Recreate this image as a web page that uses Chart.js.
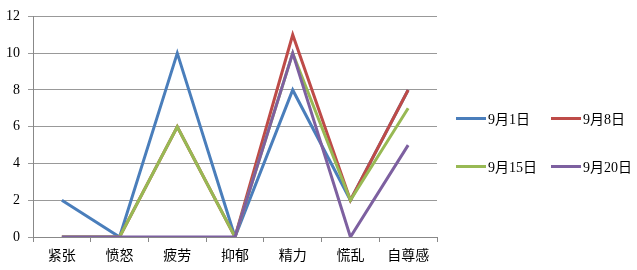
<!DOCTYPE html>
<html>
<head>
<meta charset="utf-8">
<script src="https://cdn.jsdelivr.net/npm/chart.js"></script>
<style>
  body { margin: 0; background: #fff; }
  #wrap { position: relative; width: 637px; height: 270px; }
  #legend { position: absolute; left: 456px; top: 108px; width: 180px;
    font-family: "Liberation Serif", "Noto Sans CJK SC", serif; font-size: 14px; color: #000; }
  .item { position: absolute; display: flex; align-items: center; white-space: nowrap; }
  .swatch { width: 30px; height: 3px; margin-right: 2px; }
</style>
</head>
<body>
<div id="wrap">
  <canvas id="chart" width="637" height="270"></canvas>
  <div id="legend"></div>
</div>
<script>
const categories = ['紧张', '愤怒', '疲劳', '抑郁', '精力', '慌乱', '自尊感'];
const seriesNames = ['9月1日', '9月8日', '9月15日', '9月20日'];
const sep1 = [2, 0, 10, 0, 8, 2, 8];
const sep8 = [0, 0, 6, 0, 11, 2, 8];
const sep15 = [0, 0, 6, 0, 10, 2, 7];
const sep20 = [0, 0, 0, 0, 10, 0, 5];
const colors = ['#4A7EBB', '#BE4B48', '#98B954', '#7D60A0'];
const yTicks = [0, 2, 4, 6, 8, 10, 12];

const values = [sep1, sep8, sep15, sep20];

const ctx = document.getElementById('chart').getContext('2d');
new Chart(ctx, {
  type: 'line',
  data: {
    labels: categories,
    datasets: values.map((v, i) => ({
      label: seriesNames[i],
      data: v,
      borderColor: colors[i],
      backgroundColor: colors[i],
      borderWidth: 3,
      pointRadius: 0,
      tension: 0,
      fill: false,
      order: 3 - i,
    })),
  },
  options: {
    responsive: false,
    animation: false,
    layout: { padding: { top: 16, right: 200, left: 0, bottom: 0 } },
    plugins: { legend: { display: false }, tooltip: { enabled: false } },
    scales: {
      x: {
        offset: true,
        grid: { offset: true, drawOnChartArea: false, drawTicks: true, tickLength: 5, color: '#888' },
        border: { color: '#888' },
        ticks: {
          color: '#000', padding: 4,
          font: { family: '"Noto Sans CJK SC", sans-serif', size: 14 },
        },
        afterFit(scale) { scale.height = 33; },
      },
      y: {
        min: 0, max: 12,
        afterBuildTicks(scale) { scale.ticks = yTicks.map(v => ({ value: v })); },
        grid: { color: '#999', tickLength: 5, lineWidth: 1 },
        border: { color: '#888' },
        ticks: {
          color: '#000', padding: 8,
          font: { family: '"Liberation Serif", serif', size: 14 },
        },
        afterFit(scale) { scale.width = 33; },
      },
    },
  },
});

const legend = document.getElementById('legend');
const pos = [[0, 0], [95, 0], [0, 48], [95, 48]];
seriesNames.forEach((name, i) => {
  const item = document.createElement('div');
  item.className = 'item';
  item.style.left = pos[i][0] + 'px';
  item.style.top = pos[i][1] + 'px';
  const sw = document.createElement('span');
  sw.className = 'swatch';
  sw.style.background = colors[i];
  const tx = document.createElement('span');
  tx.textContent = name;
  item.appendChild(sw);
  item.appendChild(tx);
  legend.appendChild(item);
});
</script>
</body>
</html>
